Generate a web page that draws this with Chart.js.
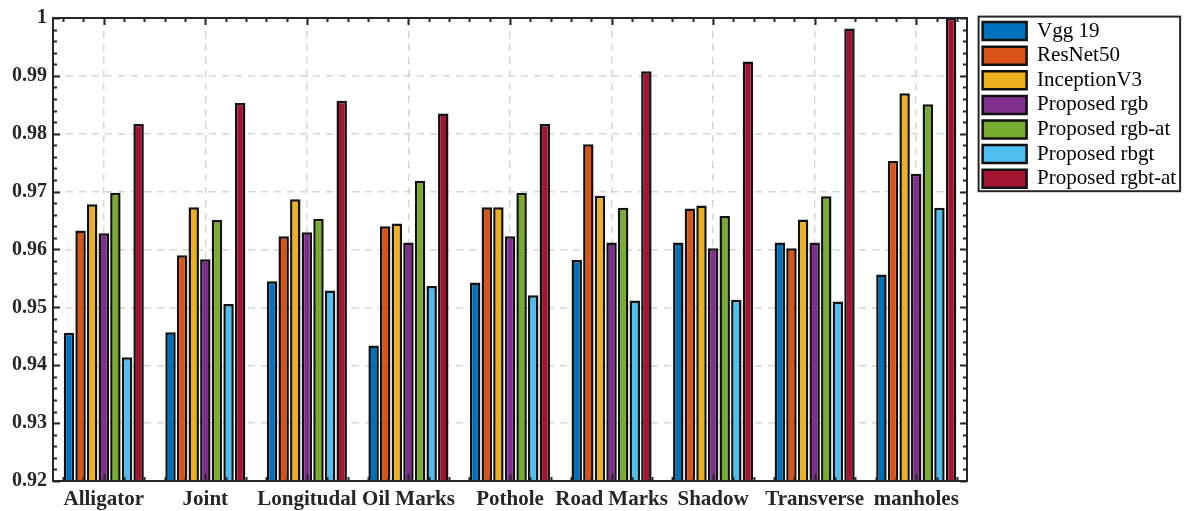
<!DOCTYPE html>
<html>
<head>
<meta charset="utf-8">
<script src="https://cdn.jsdelivr.net/npm/chart.js@4/dist/chart.umd.min.js"></script>
<style>
  html, body { margin: 0; padding: 0; background: #fff; }
  #wrap { width: 1189px; height: 511px; }
</style>
</head>
<body>
<div id="wrap"><canvas id="crackChart" width="1189" height="511"></canvas></div>
<script>
// crack classes on the x axis
const categories = ["Alligator", "Joint", "Longitudal", "Oil Marks", "Pothole", "Road Marks", "Shadow", "Transverse", "manholes"];

// one array per model
const vgg19      = [0.9456, 0.9457, 0.9545, 0.9434, 0.9543, 0.9582, 0.9612, 0.9612, 0.9557];
const resnet50   = [0.9633, 0.9590, 0.9623, 0.9640, 0.9673, 0.9782, 0.9671, 0.9602, 0.9753];
const inception  = [0.9678, 0.9673, 0.9687, 0.9645, 0.9673, 0.9693, 0.9676, 0.9652, 0.9870];
const propRgb    = [0.9628, 0.9583, 0.9630, 0.9612, 0.9623, 0.9612, 0.9602, 0.9612, 0.9731];
const propRgbAt  = [0.9698, 0.9651, 0.9653, 0.9719, 0.9698, 0.9672, 0.9658, 0.9692, 0.9851];
const propRbgt   = [0.9414, 0.9506, 0.9529, 0.9537, 0.9521, 0.9512, 0.9513, 0.9510, 0.9672];
const propRgbtAt = [0.9817, 0.9853, 0.9857, 0.9835, 0.9817, 0.9908, 0.9925, 0.9982, 1.0000];

const seriesNames = ["Vgg 19", "ResNet50", "InceptionV3", "Proposed rgb", "Proposed rgb-at", "Proposed rbgt", "Proposed rgbt-at"];
const seriesData = [vgg19, resnet50, inception, propRgb, propRgbAt, propRbgt, propRgbtAt];
const seriesColors = ["#0072BD", "#D95319", "#EDB120", "#7E2F8E", "#77AC30", "#4DBEEE", "#A2142F"];

const yMin = 0.92;
const yMax = 1.0;
const yStep = 0.01;

const axisColor = "#262626";
const legendWidth = 222;   // space kept right of the plot
const legendShift = { x: 12, y: 3 };

// box around plot + inward ticks like matlab
const frameTicks = {
    id: "frameTicks",
    afterDatasetsDraw(chart) {
        const { ctx, chartArea: a, scales } = chart;
        const x = scales.x, y = scales.y;
        ctx.save();
        ctx.strokeStyle = axisColor;
        ctx.lineWidth = 2;
        ctx.beginPath();

        // y ticks (left + right)
        for (let k = 0; k <= 40; k++) {
            const v = yMin + k * 0.002;
            const py = Math.round(y.getPixelForValue(v)) + 0.5;
            const len = (k % 5 === 0) ? 7 : 4;
            ctx.moveTo(a.left, py); ctx.lineTo(a.left + len, py);
            ctx.moveTo(a.right, py); ctx.lineTo(a.right - len, py);
        }

        // x ticks (bottom + top)
        const step = x.getPixelForValue(1) - x.getPixelForValue(0);
        for (let i = 0; i < categories.length; i++) {
            const cx = x.getPixelForValue(i);
            for (let m = -2; m <= 2; m++) {
                const px = Math.round(cx + m * step / 5) + 0.5;
                if (px <= a.left + 1 || px >= a.right - 1) continue;
                const len = (m === 0) ? 7 : 4;
                ctx.moveTo(px, a.bottom); ctx.lineTo(px, a.bottom - len);
                ctx.moveTo(px, a.top); ctx.lineTo(px, a.top + len);
            }
        }
        ctx.stroke();

        ctx.strokeRect(a.left, a.top, a.right - a.left, a.bottom - a.top);
        ctx.restore();
    }
};

// fixed legend width, shifted items and a frame around them
const legendBox = {
    id: "legendBox",
    beforeLayout(chart) {
        const lg = chart.legend;
        if (!lg || lg._patched) return;
        const fit = lg.fit;
        lg.fit = function () {
            fit.call(this);
            this.width = legendWidth;
        };
        const draw = lg.draw;
        lg.draw = function () {
            const ctx = this.ctx;
            ctx.save();
            ctx.translate(legendShift.x, legendShift.y);
            draw.call(this);
            ctx.restore();
        };
        lg._patched = true;
    },
    afterDraw(chart) {
        const lg = chart.legend;
        if (!lg || !lg.legendHitBoxes || !lg.legendHitBoxes.length) return;
        let x0 = Infinity, y0 = Infinity, x1 = -Infinity, y1 = -Infinity;
        lg.legendHitBoxes.forEach(b => {
            x0 = Math.min(x0, b.left);
            y0 = Math.min(y0, b.top);
            x1 = Math.max(x1, b.left + b.width);
            y1 = Math.max(y1, b.top + b.height);
        });
        x0 += legendShift.x; x1 += legendShift.x;
        y0 += legendShift.y; y1 += legendShift.y;
        const ctx = chart.ctx;
        ctx.save();
        ctx.strokeStyle = axisColor;
        ctx.lineWidth = 2;
        ctx.strokeRect(x0 - 4, y0 - 4, (x1 - x0) + 8, (y1 - y0) + 6);
        ctx.restore();
    }
};

const datasets = seriesNames.map((name, i) => ({
    label: name,
    data: seriesData[i],
    backgroundColor: seriesColors[i],
    borderColor: "#111",
    borderWidth: 2.5,
    borderSkipped: false,
    categoryPercentage: 0.8,
    barPercentage: 0.9
}));

new Chart(document.getElementById("crackChart"), {
    type: "bar",
    data: { labels: categories, datasets: datasets },
    plugins: [frameTicks, legendBox],
    options: {
        responsive: false,
        animation: false,
        layout: { padding: { top: 14, left: 0, right: 0, bottom: 0 } },
        plugins: {
            tooltip: { enabled: false },
            legend: {
                position: "right",
                align: "start",
                labels: {
                    boxWidth: 44,
                    boxHeight: 18,
                    padding: 3.6,
                    color: "#000",
                    font: { family: "'Liberation Serif', 'DejaVu Serif', serif", size: 21 }
                }
            }
        },
        scales: {
            x: {
                afterFit(scale) { scale.height = 30; },
                grid: {
                    offset: false,
                    drawTicks: false,
                    color: "#d6d6d6",
                    lineWidth: 1.5
                },
                border: { display: false, dash: [7, 6] },
                ticks: {
                    padding: 6,
                    color: axisColor,
                    maxRotation: 0,
                    autoSkip: false,
                    font: { family: "'Liberation Serif', serif", size: 21, weight: "bold" }
                }
            },
            y: {
                min: yMin,
                max: yMax,
                afterFit(scale) { scale.width = 53; },
                grid: {
                    drawTicks: false,
                    color: "#d6d6d6",
                    lineWidth: 1.5
                },
                border: { display: false, dash: [7, 6] },
                ticks: {
                    stepSize: yStep,
                    padding: 6,
                    color: axisColor,
                    font: { family: "'Liberation Serif', serif", size: 20, weight: "bold" },
                    callback: v => Math.abs(v - 1) < 1e-9 ? "1" : Number(v).toFixed(2)
                }
            }
        }
    }
});
</script>
</body>
</html>
